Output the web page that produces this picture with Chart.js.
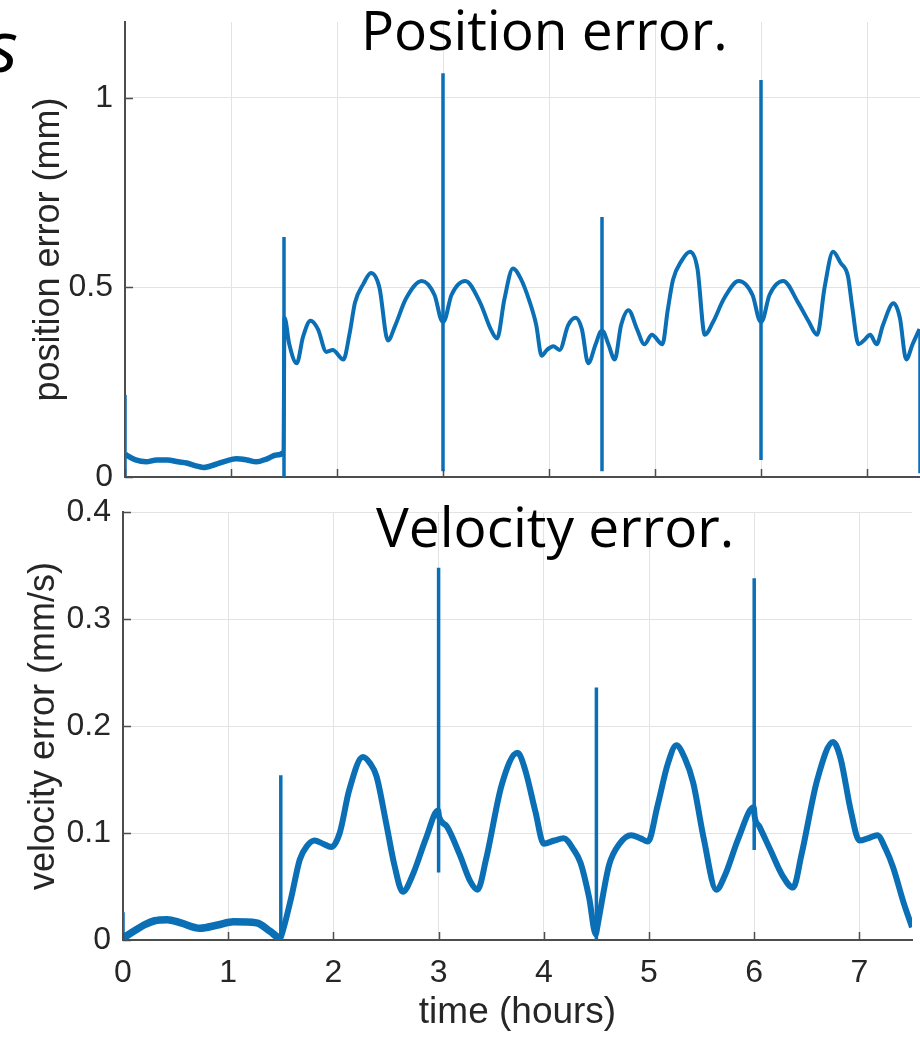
<!DOCTYPE html>
<html>
<head>
<meta charset="utf-8">
<script src="https://cdn.jsdelivr.net/npm/chart.js@4.4.0/dist/chart.umd.min.js"></script>
<style>
  html, body { margin: 0; padding: 0; background: #fff; }
  body { width: 920px; height: 1038px; position: relative; overflow: hidden; }
  canvas { position: absolute; left: 0; }
  #posChart { top: 0; }
  #velChart { top: 490px; }
  .caption { position: absolute; font-family: "Open Sans", Lato, sans-serif; color: #000; white-space: nowrap; line-height: 1; font-variant-ligatures: none; }
</style>
</head>
<body>
<canvas id="posChart" width="920" height="500"></canvas>
<canvas id="velChart" width="920" height="548"></canvas>
<div class="caption" style="left:-13px; top:8px; font-size:72px; font-style:italic;">s</div>
<div class="caption" style="left:361px; top:1px; font-size:55px;">Position error.</div>
<div class="caption" style="left:376px; top:498px; font-size:55px;">Velocity error.</div>

<script>
// position error (mm) over time (hours), one segment per 1.5 h cycle
const posTime = [
  0.005, 0.03, 0.1, 0.2, 0.3, 0.4, 0.5, 0.58, 0.66, 0.74, 0.85, 0.95, 1.05, 1.15, 1.24, 1.34, 1.43, 1.495,
  1.505, 1.55, 1.62, 1.68, 1.75, 1.82, 1.9, 1.96, 2.06, 2.12, 2.17, 2.25, 2.32, 2.4, 2.48, 2.55, 2.65, 2.8, 2.92, 2.995,
  3.005, 3.08, 3.21, 3.35, 3.45, 3.51, 3.58, 3.66, 3.73, 3.82, 3.88, 3.93, 3.98, 4.04, 4.1, 4.18, 4.25, 4.31, 4.37, 4.44, 4.495,
  4.505, 4.56, 4.62, 4.68, 4.75, 4.83, 4.9, 4.97, 5.07, 5.12, 5.17, 5.25, 5.33, 5.4, 5.47, 5.55, 5.65, 5.79, 5.92, 5.995,
  6.005, 6.08, 6.21, 6.35, 6.45, 6.53, 6.6, 6.68, 6.75, 6.82, 6.86, 6.92, 6.97, 7.03, 7.09, 7.15, 7.25, 7.31, 7.37, 7.43, 7.495
];
const posValue = [
  0.06, 0.055, 0.045, 0.04, 0.045, 0.045, 0.04, 0.037, 0.03, 0.025, 0.033, 0.042, 0.048, 0.045, 0.04, 0.048, 0.058, 0.065,
  0.42, 0.35, 0.30, 0.37, 0.412, 0.39, 0.33, 0.335, 0.31, 0.38, 0.46, 0.51, 0.538, 0.50, 0.36, 0.40, 0.47, 0.517, 0.48, 0.41,
  0.41, 0.48, 0.517, 0.46, 0.39, 0.365, 0.47, 0.55, 0.525, 0.46, 0.40, 0.32, 0.335, 0.345, 0.335, 0.40, 0.42, 0.39, 0.30, 0.35, 0.385,
  0.385, 0.35, 0.31, 0.40, 0.44, 0.39, 0.35, 0.375, 0.35, 0.44, 0.52, 0.57, 0.594, 0.55, 0.375, 0.41, 0.47, 0.517, 0.48, 0.41,
  0.41, 0.48, 0.517, 0.46, 0.41, 0.375, 0.50, 0.594, 0.565, 0.53, 0.45, 0.35, 0.36, 0.375, 0.35, 0.40, 0.458, 0.42, 0.31, 0.35, 0.39
];
// transients at each switch-over
const posSpikeTime = [0, 1.5, 3, 4.5, 6, 7.5];
const posSpikeLow = [0, 0, 0.015, 0.015, 0.045, 0.01];
const posSpikeHigh = [0.216, 0.633, 1.065, 0.686, 1.047, 0.39];

// velocity error (mm/s)
const velTime = [
  0.005, 0.1, 0.2, 0.3, 0.42, 0.55, 0.73, 0.9, 1.05, 1.27, 1.4, 1.495,
  1.505, 1.6, 1.68, 1.75, 1.82, 1.9, 1.98, 2.06, 2.15, 2.28, 2.35, 2.41, 2.5, 2.58, 2.66, 2.75, 2.88, 2.995,
  3.005, 3.08, 3.2, 3.3, 3.37, 3.45, 3.6, 3.75, 3.82, 3.92, 4.0, 4.1, 4.19, 4.28, 4.35, 4.43, 4.495,
  4.505, 4.55, 4.62, 4.72, 4.83, 4.92, 4.99, 5.08, 5.18, 5.26, 5.34, 5.42, 5.52, 5.64, 5.72, 5.85, 5.995,
  6.005, 6.05, 6.15, 6.27, 6.37, 6.45, 6.6, 6.75, 6.82, 6.92, 7.0, 7.08, 7.17, 7.25, 7.32, 7.42, 7.5
];
const velValue = [
  0.002, 0.008, 0.014, 0.018, 0.019, 0.016, 0.011, 0.014, 0.017, 0.016, 0.008, 0.002,
  0.004, 0.04, 0.075, 0.088, 0.093, 0.09, 0.087, 0.1, 0.14, 0.171, 0.165, 0.153, 0.11, 0.07, 0.045, 0.06, 0.095, 0.121,
  0.115, 0.106, 0.08, 0.055, 0.047, 0.075, 0.145, 0.175, 0.16, 0.12, 0.09, 0.093, 0.095, 0.085, 0.072, 0.04, 0.005,
  0.01, 0.035, 0.07, 0.09, 0.098, 0.095, 0.092, 0.125, 0.165, 0.182, 0.17, 0.147, 0.095, 0.047, 0.06, 0.095, 0.124,
  0.115, 0.106, 0.085, 0.06, 0.049, 0.08, 0.15, 0.185, 0.17, 0.12, 0.093, 0.095, 0.098, 0.085, 0.068, 0.035, 0.012
];
const velSpikeTime = [0, 1.5, 3, 4.5, 6];
const velSpikeLow = [0, 0, 0.063, 0, 0.084];
const velSpikeHigh = [0.026, 0.154, 0.348, 0.236, 0.338];

const posTicks = [0, 0.5, 1];
const velTicks = [0, 0.1, 0.2, 0.3, 0.4];
const timeTicks = [0, 1, 2, 3, 4, 5, 6, 7];

const LINE_BLUE = '#0b6fb6';
const TEXT = '#262626';
const AXIS = '#4d4d4d';
const GRID = '#e3e3e3';

function toPoints(xs, ys) {
  return xs.map((x, i) => ({ x: x, y: ys[i] }));
}

// vertical strokes, broken apart with null points
function spikePoints(xs, lows, highs) {
  const pts = [];
  xs.forEach((x, i) => {
    pts.push({ x: x, y: lows[i] });
    pts.push({ x: x, y: highs[i] });
    pts.push({ x: x, y: null });
  });
  return pts;
}

// MATLAB style tick marks pointing into the axes
const inwardTicks = {
  id: 'inwardTicks',
  afterDraw(chart) {
    const { ctx, chartArea, scales } = chart;
    ctx.save();
    ctx.strokeStyle = AXIS;
    ctx.lineWidth = 1.5;
    ctx.beginPath();
    scales.x.ticks.forEach(t => {
      const px = Math.round(scales.x.getPixelForValue(t.value)) + 0.5;
      ctx.moveTo(px, chartArea.bottom);
      ctx.lineTo(px, chartArea.bottom - 8);
    });
    scales.y.ticks.forEach(t => {
      const py = Math.round(scales.y.getPixelForValue(t.value)) + 0.5;
      ctx.moveTo(chartArea.left, py);
      ctx.lineTo(chartArea.left + 8, py);
    });
    ctx.stroke();
    ctx.restore();
  }
};

// pin the axis boxes so the plot area lands where it should
function fixBox(size, key) {
  return s => {
    s[key] = size;
    s.paddingTop = 0;
    s.paddingBottom = 0;
    s.paddingLeft = 0;
    s.paddingRight = 0;
  };
}

function makeChart(id, cfg) {
  const tickFont = { family: 'Liberation Sans', size: 32 };
  const titleFont = { family: 'Liberation Sans', size: 36 };
  return new Chart(document.getElementById(id), {
    type: 'line',
    data: {
      datasets: [
        {
          data: cfg.curve,
          borderColor: LINE_BLUE,
          borderWidth: cfg.curveWidth,
          pointRadius: 0,
          cubicInterpolationMode: 'monotone',
          fill: false,
          // the settling phase before the first switch is noisier
          segment: { borderWidth: c => (c.p1.parsed.x < 1.5 ? cfg.curveWidth + 1.5 : cfg.curveWidth) }
        },
        {
          data: cfg.spikes,
          borderColor: LINE_BLUE,
          borderWidth: 3.5,
          pointRadius: 0,
          spanGaps: false,
          fill: false
        }
      ]
    },
    options: {
      responsive: false,
      animation: false,
      layout: { padding: { top: 22, right: cfg.rightPad, bottom: 0, left: 0 } },
      plugins: { legend: { display: false }, tooltip: { enabled: false } },
      scales: {
        x: {
          type: 'linear',
          min: 0,
          max: 7.5,
          afterBuildTicks: s => { s.ticks = timeTicks.map(v => ({ value: v })); },
          afterFit: fixBox(cfg.xHeight, 'height'),
          ticks: { display: cfg.showTime, padding: 14, font: tickFont, color: TEXT, maxRotation: 0, callback: v => String(v) },
          grid: { color: GRID, lineWidth: 1, drawTicks: false },
          border: { display: true, color: AXIS, width: 2 },
          title: {
            display: cfg.showTime,
            text: 'time (hours)',
            font: { family: 'Liberation Sans', size: 37 },
            color: TEXT,
            padding: { top: 0, bottom: 3 }
          }
        },
        y: {
          type: 'linear',
          min: 0,
          max: cfg.yMax,
          afterBuildTicks: s => { s.ticks = cfg.yTicks.map(v => ({ value: v })); },
          afterFit: fixBox(cfg.yWidth, 'width'),
          ticks: { padding: 12, font: tickFont, color: TEXT, callback: v => String(v) },
          grid: { color: GRID, lineWidth: 1, drawTicks: false },
          border: { display: true, color: AXIS, width: 2 },
          title: {
            display: true,
            text: cfg.yTitle,
            font: titleFont,
            color: TEXT,
            padding: { top: cfg.yTitlePad, bottom: 0 }
          }
        }
      }
    },
    plugins: [inwardTicks]
  });
}

makeChart('posChart', {
  curve: toPoints(posTime, posValue),
  spikes: spikePoints(posSpikeTime, posSpikeLow, posSpikeHigh),
  curveWidth: 4,
  yMax: 1.2,
  yTicks: posTicks,
  yTitle: 'position error (mm)',
  yWidth: 125,
  yTitlePad: 27,
  xHeight: 23,
  rightPad: 0,
  showTime: false
});

makeChart('velChart', {
  curve: toPoints(velTime, velValue),
  spikes: spikePoints(velSpikeTime, velSpikeLow, velSpikeHigh),
  curveWidth: 6,
  yMax: 0.4,
  yTicks: velTicks,
  yTitle: 'velocity error (mm/s)',
  yWidth: 123,
  yTitlePad: 22,
  xHeight: 98,
  rightPad: 8,
  showTime: true
});
</script>
</body>
</html>
